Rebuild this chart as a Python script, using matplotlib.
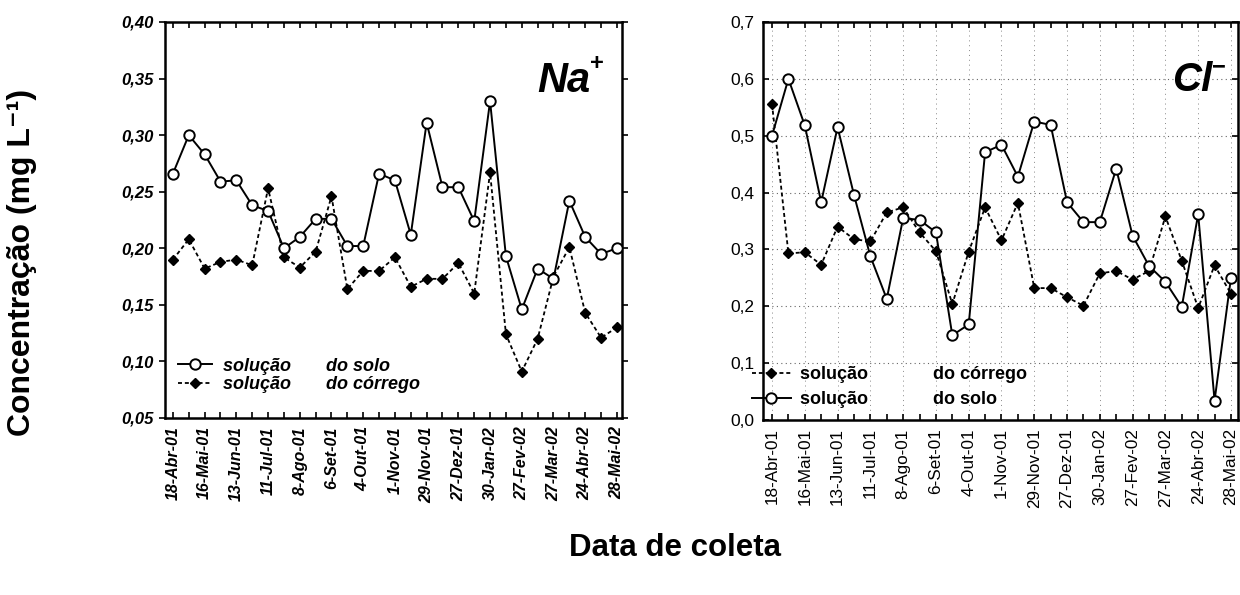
import matplotlib
matplotlib.use("Agg")
import matplotlib.pyplot as plt
import numpy as np

plt.rcParams['font.family'] = ['Liberation Sans', 'DejaVu Sans']

# ---------------- data ----------------
date_labels = ["18-Abr-01", "16-Mai-01", "13-Jun-01", "11-Jul-01", "8-Ago-01",
               "6-Set-01", "4-Out-01", "1-Nov-01", "29-Nov-01", "27-Dez-01",
               "30-Jan-02", "27-Fev-02", "27-Mar-02", "24-Abr-02", "28-Mai-02"]

na_solo = [0.266, 0.300, 0.283, 0.259, 0.260, 0.238, 0.233, 0.200, 0.210, 0.226,
           0.226, 0.202, 0.202, 0.266, 0.260, 0.212, 0.311, 0.254, 0.254, 0.224,
           0.330, 0.193, 0.146, 0.182, 0.173, 0.242, 0.210, 0.195, 0.200]
na_corrego = [0.190, 0.208, 0.182, 0.188, 0.190, 0.185, 0.253, 0.192, 0.183, 0.197,
              0.246, 0.164, 0.180, 0.180, 0.192, 0.166, 0.173, 0.173, 0.187, 0.160,
              0.267, 0.124, 0.091, 0.120, 0.175, 0.201, 0.143, 0.121, 0.130]

cl_solo = [0.500, 0.600, 0.518, 0.383, 0.515, 0.396, 0.288, 0.213, 0.355, 0.352,
           0.330, 0.149, 0.168, 0.471, 0.484, 0.428, 0.525, 0.519, 0.383, 0.348,
           0.348, 0.442, 0.324, 0.271, 0.243, 0.199, 0.362, 0.034, 0.250]
cl_corrego = [0.556, 0.293, 0.295, 0.273, 0.340, 0.318, 0.314, 0.365, 0.374, 0.330,
              0.297, 0.204, 0.296, 0.374, 0.316, 0.382, 0.232, 0.232, 0.216, 0.201,
              0.258, 0.262, 0.247, 0.262, 0.358, 0.280, 0.197, 0.272, 0.222]

na_yticks = [0.05, 0.10, 0.15, 0.20, 0.25, 0.30, 0.35, 0.40]
cl_yticks = [0.0, 0.1, 0.2, 0.3, 0.4, 0.5, 0.6, 0.7]

# ---------------- figure ----------------
fig = plt.figure(figsize=(12.4, 5.95), dpi=100)
ax1 = fig.add_axes([165/1240, 1-418/595, 457/1240, 396/595])
ax2 = fig.add_axes([763/1240, 1-420/595, 475/1240, 398/595])

n = len(na_solo)
x = np.arange(n)
tick_labels = []
for i in range(n):
    tick_labels.append(date_labels[i // 2] if i % 2 == 0 else "")

dash = (0, (2.2, 1.6))

# ---- left: Na+
ax1.plot(x, na_solo, '-', color='black', lw=1.4, marker='o', ms=7.5,
         mfc='white', mec='black', mew=1.4, label='solução       do solo', zorder=3)
ax1.plot(x, na_corrego, linestyle=dash, color='black', lw=1.3, marker='D', ms=5,
         mfc='black', mec='black', label='solução       do córrego', zorder=2)
ax1.set_xlim(-0.5, 28.32)
ax1.set_ylim(0.05, 0.40)
ax1.set_yticks(na_yticks)
ax1.set_yticklabels([f"{v:.2f}".replace('.', ',') for v in na_yticks],
                    fontsize=12, fontweight='bold', fontstyle='italic')
ax1.set_xticks(x)
ax1.set_xticklabels(tick_labels, rotation=90, fontsize=11.5,
                    fontweight='bold', fontstyle='italic')
ax1.tick_params(axis='x', direction='in', top=True, length=4, width=1.2, pad=6)
ax1.tick_params(axis='y', direction='out', right=True, length=4, width=1.2, pad=4)
for s in ax1.spines.values():
    s.set_linewidth(1.8)
t1 = ax1.text(0.93, 0.85, 'Na', transform=ax1.transAxes, ha='right', va='center',
              fontsize=30, fontweight='bold', fontstyle='italic')
ax1.annotate('+', xy=(1.0, 0.95), xycoords=t1, xytext=(0, 0), textcoords='offset points',
             ha='left', va='center', fontsize=17, fontweight='bold')
leg1 = ax1.legend(loc='lower left', bbox_to_anchor=(0.0, 0.03), frameon=False,
                  prop={'size': 13, 'weight': 'bold', 'style': 'italic'},
                  handlelength=1.9, handletextpad=0.6, labelspacing=0.1,
                  borderaxespad=0.3)

# ---- right: Cl-
ax2.plot(x, cl_corrego, linestyle=dash, color='black', lw=1.3, marker='D', ms=5,
         mfc='black', mec='black', label='solução             do córrego', zorder=2)
ax2.plot(x, cl_solo, '-', color='black', lw=1.4, marker='o', ms=7.5,
         mfc='white', mec='black', mew=1.4, label='solução             do solo', zorder=3)
ax2.set_xlim(-0.55, 28.43)
ax2.set_ylim(0.0, 0.7)
ax2.set_yticks(cl_yticks)
ax2.set_yticklabels([f"{v:.1f}".replace('.', ',') for v in cl_yticks], fontsize=12.5)
ax2.set_xticks(x)
ax2.set_xticklabels(tick_labels, rotation=90, fontsize=12.3)
ax2.tick_params(axis='x', direction='in', top=True, length=4, width=1.2, pad=6)
ax2.tick_params(axis='y', direction='in', right=True, length=4, width=1.2, pad=6)
ax2.grid(True, which='major', axis='y', linestyle=(0, (1, 3)), color='#666666', lw=0.8)
for xi in range(0, n, 2):
    ax2.axvline(xi, linestyle=(0, (1, 4)), color='#888888', lw=0.7, zorder=0)
for s in ax2.spines.values():
    s.set_linewidth(1.8)
t2 = ax2.text(0.945, 0.855, 'Cl', transform=ax2.transAxes, ha='right', va='center',
              fontsize=29, fontweight='bold', fontstyle='italic')
ax2.annotate('\u2212', xy=(1.0, 0.85), xycoords=t2, xytext=(0, 0), textcoords='offset points',
             ha='left', va='center', fontsize=17, fontweight='bold')
leg2 = ax2.legend(loc='lower left', bbox_to_anchor=(-0.045, 0.005), frameon=False,
                  prop={'size': 13, 'weight': 'bold'},
                  handlelength=2.2, handletextpad=0.5, labelspacing=0.45,
                  borderaxespad=0.15)

# ---- shared labels
fig.text(22/1240, 1-262/595, 'Concentração (mg L\u207b\u00b9)', rotation=90,
         ha='center', va='center', fontsize=23, fontweight='bold')
fig.text(675/1240, 1-548/595, 'Data de coleta', ha='center', va='center',
         fontsize=22.5, fontweight='bold')

fig.savefig('out.png', dpi=100)
